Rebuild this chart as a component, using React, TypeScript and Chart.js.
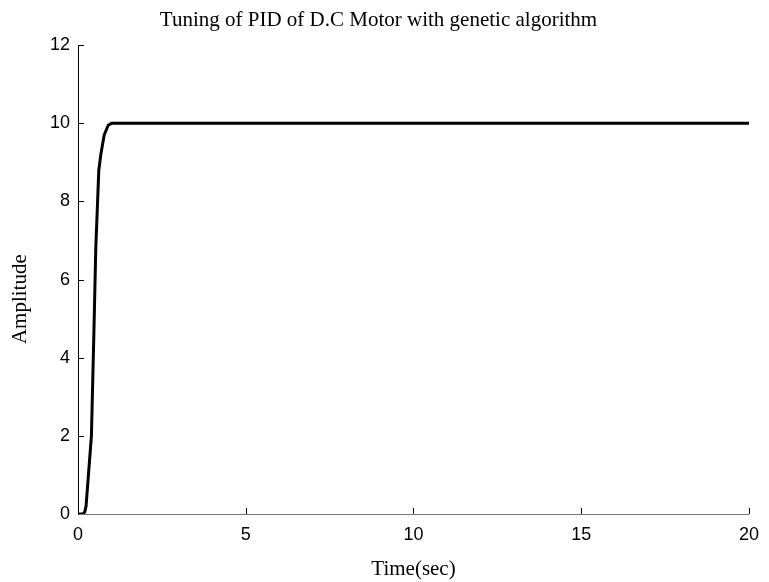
import React, { useEffect, useRef } from "react";
import { Chart, registerables } from "chart.js";

Chart.register(...registerables);

// ---- data ----
const timeSec = [0, 0.15, 0.2, 0.24, 0.4, 0.47, 0.53, 0.62, 0.68, 0.78, 0.9, 1.0, 20];
const amplitude = [0, 0, 0.05, 0.2, 2.0, 4.5, 6.8, 8.8, 9.2, 9.7, 9.95, 10, 10];
const xTickValues = [0, 5, 10, 15, 20];
const yTickValues = [0, 2, 4, 6, 8, 10, 12];
const chartTitle = "Tuning of PID of D.C Motor with genetic algorithm";
const xAxisLabel = "Time(sec)";
const yAxisLabel = "Amplitude";

const inwardTicks = {
  id: "inwardTicks",
  afterDraw(chart: any) {
    const { ctx, chartArea, scales } = chart;
    const len = 6;
    ctx.save();
    ctx.strokeStyle = "#000";
    ctx.lineWidth = 1;
    ctx.beginPath();
    for (const v of xTickValues) {
      if (v === 0) continue;
      const px = Math.round(scales.x.getPixelForValue(v)) + 0.5;
      ctx.moveTo(px, chartArea.bottom);
      ctx.lineTo(px, chartArea.bottom - len);
    }
    for (const v of yTickValues) {
      if (v === 0) continue;
      const py = Math.round(scales.y.getPixelForValue(v)) + 0.5;
      ctx.moveTo(chartArea.left, py);
      ctx.lineTo(chartArea.left + len, py);
    }
    ctx.stroke();
    // y axis label
    ctx.fillStyle = "#000";
    ctx.font = "21px 'Liberation Serif'";
    ctx.textAlign = "center";
    ctx.textBaseline = "middle";
    ctx.translate(20, scales.y.getPixelForValue(5.5));
    ctx.rotate(-Math.PI / 2);
    ctx.fillText(yAxisLabel, 0, 0);
    ctx.restore();
  },
};

export default function App() {
  const ref = useRef<HTMLCanvasElement | null>(null);
  useEffect(() => {
    if (!ref.current) return;
    const chart = new Chart(ref.current, {
      type: "line",
      data: {
        datasets: [
          {
            data: timeSec.map((t, i) => ({ x: t, y: amplitude[i] })),
            borderColor: "#000",
            borderWidth: 3,
            pointRadius: 0,
            tension: 0,
            fill: false,
          },
        ],
      },
      options: {
        animation: false,
        responsive: false,
        layout: { padding: { left: 0, right: 12, top: 0, bottom: 0 } },
        plugins: {
          legend: { display: false },
          tooltip: { enabled: false },
          title: {
            display: true,
            text: chartTitle,
            color: "#000",
            font: { family: "Liberation Serif", size: 21, weight: "normal" },
            padding: { top: 8, bottom: 12 },
          },
        },
        scales: {
          x: {
            type: "linear",
            min: 0,
            max: 20,
            afterBuildTicks: (s: any) => {
              s.ticks = xTickValues.map((v) => ({ value: v }));
            },
            afterFit: (s: any) => {
              s.height = 68;
            },
            ticks: {
              color: "#000",
              font: { family: "Liberation Sans", size: 18 },
              padding: 10,
              maxRotation: 0,
            },
            grid: { drawOnChartArea: false, drawTicks: false },
            border: { color: "#777", width: 1 },
            title: {
              display: true,
              text: xAxisLabel,
              color: "#000",
              font: { family: "Liberation Serif", size: 21 },
              padding: { top: 4, bottom: 0 },
            },
          },
          y: {
            type: "linear",
            min: 0,
            max: 12,
            afterBuildTicks: (s: any) => {
              s.ticks = yTickValues.map((v) => ({ value: v }));
            },
            afterFit: (s: any) => {
              s.width = 78;
            },
            ticks: {
              color: "#000",
              font: { family: "Liberation Sans", size: 18 },
              padding: 8,
            },
            grid: { drawOnChartArea: false, drawTicks: false },
            border: { color: "#000", width: 1 },
          },
        },
      },
      plugins: [inwardTicks],
    });
    return () => chart.destroy();
  }, []);
  return (
    <div style={{ position: "absolute", left: 0, top: 0, width: 769, height: 582, background: "#fff" }}>
      <canvas ref={ref} width={769} height={582} />
    </div>
  );
}
